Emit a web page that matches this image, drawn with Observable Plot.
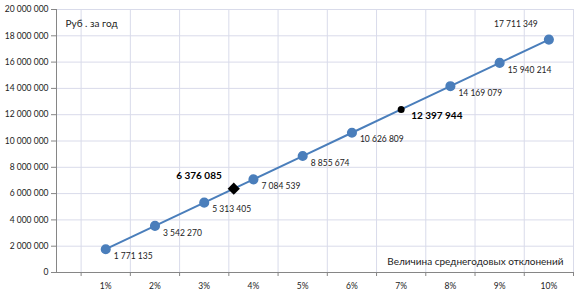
<!DOCTYPE html>
<html><head><meta charset="utf-8">
<script src="https://cdn.jsdelivr.net/npm/d3@7"></script>
<script src="https://cdn.jsdelivr.net/npm/@observablehq/plot@0.6"></script>
<style>body{margin:0;background:#fff;} svg{display:block;}</style>
</head><body>
<div id="chart"></div>
<script>
const percents = [1, 2, 3, 4, 5, 6, 7, 8, 9, 10];
const values = [1771135, 3542270, 5313405, 7084539, 8855674, 10626809, 12397944, 14169079, 15940214, 17711349];
const highlightPercents = [3.6, 7];
const highlightValues = [6376085, 12397944];
const yTicks = [0, 2000000, 4000000, 6000000, 8000000, 10000000, 12000000, 14000000, 16000000, 18000000, 20000000];
const xBoundaries = [0.5, 1.5, 2.5, 3.5, 4.5, 5.5, 6.5, 7.5, 8.5, 9.5, 10.5];
const yLabel = "Руб . за год";
const xLabel = "Величина среднегодовых отклонений";

const fmt = d => d3.format(",")(d).replace(/,/g, " ");
const pts = percents.map((p, i) => ({x: p, y: values[i]}));
const regular = pts.filter(d => !highlightPercents.includes(d.x));
const hl = highlightPercents.map((p, i) => ({x: p, y: highlightValues[i]}));
const font = "Lato, 'Open Sans', sans-serif";
const blue = "#4a7ebb";
const grid = "#d9dbea";
const lastX = percents[percents.length - 1];

const chart = Plot.plot({
  width: 582, height: 299,
  marginLeft: 56, marginRight: 9, marginTop: 9, marginBottom: 27,
  style: {fontFamily: font, fontSize: "8.5px", color: "#222", background: "#fff"},
  x: {domain: [0, 10.5]},
  y: {domain: [0, 20000000]},
  marks: [
    Plot.ruleY(yTicks.slice(1), {stroke: grid, strokeWidth: 1}),
    Plot.ruleX(xBoundaries, {stroke: grid, strokeWidth: 1}),
    Plot.ruleX([0], {stroke: "#868686"}),
    Plot.ruleY([0], {stroke: "#868686"}),
    Plot.axisY({ticks: yTicks, tickFormat: fmt, tickSize: 5, tickPadding: 3, stroke: "#868686", label: null}),
    Plot.axisX({ticks: xBoundaries, tickFormat: () => "", tickSize: 4, stroke: "#868686", label: null}),
    Plot.axisX({ticks: percents, tickFormat: d => d + "%", tickSize: 0, tickPadding: 10, label: null}),
    Plot.line(pts, {x: "x", y: "y", stroke: blue, strokeWidth: 2}),
    Plot.dot(regular, {x: "x", y: "y", r: 4.3, fill: blue, stroke: blue}),
    Plot.text(regular.filter(d => d.x !== lastX), {x: "x", y: "y", text: d => fmt(d.y), dx: 8, dy: 7, textAnchor: "start", fontSize: 8.5, fill: "#222"}),
    Plot.text(regular.filter(d => d.x === lastX), {x: "x", y: "y", text: d => fmt(d.y), dx: -33, dy: -15, textAnchor: "middle", fontSize: 8.5, fill: "#222"}),
    Plot.dot(hl.slice(0, 1), {x: "x", y: "y", symbol: "diamond2", r: 5.5, fill: "#000"}),
    Plot.dot(hl.slice(1), {x: "x", y: "y", symbol: "circle", r: 3.5, fill: "#000"}),
    Plot.text(hl.slice(0, 1), {x: "x", y: "y", text: d => fmt(d.y), dx: -12, dy: -13, textAnchor: "end", fontWeight: "bold", fontSize: 10, fill: "#000"}),
    Plot.text(hl.slice(1), {x: "x", y: "y", text: d => fmt(d.y), dx: 10, dy: 6, textAnchor: "start", fontWeight: "bold", fontSize: 10, fill: "#000"}),
    Plot.text([yLabel], {frameAnchor: "top-left", dx: 9, dy: 10, fontSize: 10, fill: "#222"}),
    Plot.text([xLabel], {frameAnchor: "bottom-right", dx: -10, dy: -8, fontSize: 10, fill: "#222"})
  ]
});
document.getElementById("chart").appendChild(chart);
</script>
</body></html>
